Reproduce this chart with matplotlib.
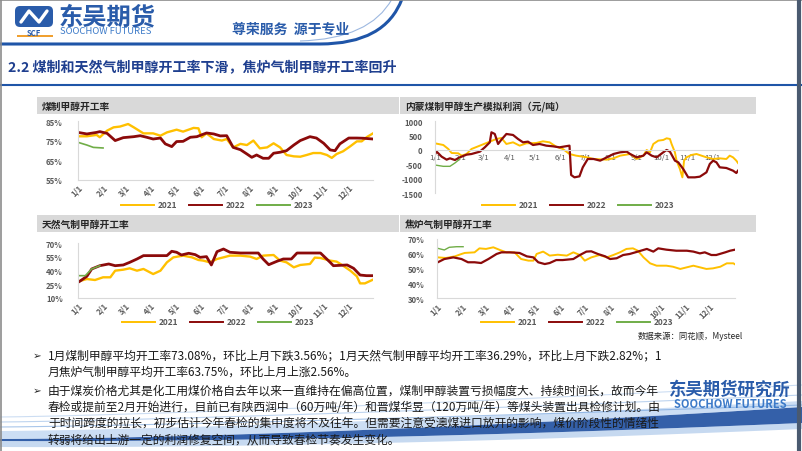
import numpy as np
import matplotlib
matplotlib.use('Agg')
from matplotlib import pyplot as plt
from matplotlib.patches import Rectangle, FancyBboxPatch, PathPatch
from matplotlib.path import Path
from matplotlib.lines import Line2D

plt.rcParams['font.family'] = ['Noto Sans CJK SC', 'DejaVu Sans']

# ---------------- data ----------------
month_days = [0, 31, 59, 90, 120, 151, 181, 212, 243, 273, 304, 334]
month_labels = ['1/1', '2/1', '3/1', '4/1', '5/1', '6/1', '7/1', '8/1', '9/1', '10/1', '11/1', '12/1']
years = ['2021', '2022', '2023']
colors = {'2021': '#FFC000', '2022': '#8B0A0A', '2023': '#70AD47'}

# 煤制甲醇开工率 (%)
coal_d21 = [0, 11, 23, 27, 36, 44, 52, 62, 69, 81, 93, 102, 110, 122, 130, 143, 149, 153, 159, 168,
            178, 184, 192, 201, 209, 217, 225, 234, 242, 250, 258, 267, 275, 283, 291, 300, 308, 314,
            320, 328, 337, 345, 351, 357, 365]
coal_21 = [77.3, 77.3, 78.0, 76.8, 80.2, 81.9, 82.3, 83.6, 81.9, 78.8, 78.8, 77.6, 79.3, 80.7, 79.7,
           81.6, 81.4, 76.8, 78.8, 75.9, 75.1, 75.9, 71.6, 73.4, 72.8, 75.1, 71.1, 71.6, 73.7, 71.6,
           67.7, 67.0, 66.8, 67.7, 68.7, 68.7, 67.7, 66.2, 68.2, 69.6, 72.2, 74.7, 74.7, 76.8, 78.8]
coal_d22 = [0, 11, 23, 27, 36, 46, 56, 69, 77, 85, 93, 102, 108, 116, 122, 130, 139, 147, 159, 168,
            176, 184, 192, 201, 209, 215, 221, 229, 236, 242, 250, 258, 267, 275, 287, 295, 304, 312,
            318, 324, 335, 345, 353, 365]
coal_22 = [79.3, 78.5, 79.3, 79.7, 78.8, 75.1, 76.6, 77.1, 77.6, 76.8, 75.9, 76.4, 73.4, 72.0, 74.6,
           74.7, 76.8, 77.1, 79.0, 78.5, 77.5, 77.6, 71.6, 70.4, 68.2, 66.5, 67.7, 66.0, 66.0, 68.6,
           69.1, 69.9, 72.8, 75.1, 77.1, 76.4, 73.7, 70.3, 69.9, 73.4, 76.4, 76.4, 76.3, 75.9]
coal_d23 = [0, 11, 19, 31]
coal_23 = [74.2, 72.8, 71.6, 71.3]

# 内蒙煤制甲醇生产模拟利润 (元/吨)
prof_d21 = [0, 10, 16, 20, 28, 32, 38, 44, 54, 64, 74, 80, 86, 94, 102, 110, 122, 130, 138, 146, 154,
            162, 170, 183, 191, 207, 215, 223, 235, 243, 251, 255, 259, 263, 269, 275, 279, 283, 285,
            289, 291, 295, 298, 300, 303, 309, 315, 321, 327, 335, 343, 351, 355, 359, 363, 365]
prof_21 = [232, 174, 35, -105, -116, -198, -140, 35, 151, 267, 384, 419, 209, 267, 151, 232, 244, 302,
           267, 116, 35, -140, -198, -256, -314, -337, -291, -198, -140, -314, -198, 0, -81, 209, 326,
           349, 407, 384, 209, -81, -372, -663, -954, -372, -256, -174, -140, -198, -256, -314, -291,
           -314, -198, -256, -372, -454]
prof_d22 = [0, 2, 8, 14, 18, 24, 30, 38, 44, 54, 60, 66, 68, 72, 76, 80, 86, 94, 100, 106, 112, 118,
            126, 134, 142, 150, 162, 164, 168, 174, 178, 184, 191, 199, 207, 215, 223, 231, 235, 243,
            251, 255, 261, 267, 275, 279, 283, 289, 293, 299, 305, 313, 319, 327, 331, 335, 339, 343,
            351, 359, 363, 365]
prof_22 = [-140, -58, -233, -337, -291, -349, -256, -163, -140, -58, 93, 267, 616, 558, 209, 360, 558,
           523, 384, 267, 291, 174, 209, 151, 128, 93, 151, -872, -954, -919, -605, -314, -314, -372,
           -256, -140, -81, -58, -140, -256, -198, -81, -198, -256, -81, 0, -58, -372, -430, -663,
           -954, -954, -931, -779, -489, -372, -430, -605, -628, -721, -803, -721]
prof_d23 = [0, 10, 18, 24, 30]
prof_23 = [-524, -570, -570, -454, -314]

# 天然气制甲醇开工率 (%)
gas_d21 = [2, 11, 21, 31, 40, 46, 56, 64, 73, 81, 93, 102, 110, 118, 130, 141, 149, 155, 163, 172,
           180, 188, 201, 213, 221, 229, 242, 250, 258, 267, 275, 287, 293, 300, 312, 320, 328, 337,
           345, 349, 355, 365]
gas_21 = [28.4, 30.6, 29.5, 32.5, 32.5, 39.8, 40.9, 42.4, 39.8, 41.7, 36.1, 39.8, 49.0, 54.5, 56.4,
          54.5, 51.6, 50.9, 49.0, 52.7, 54.5, 56.4, 56.4, 55.3, 52.7, 56.4, 57.1, 50.9, 49.0, 43.5,
          46.1, 47.2, 54.2, 53.8, 50.9, 49.8, 45.3, 39.8, 33.6, 25.8, 25.8, 29.9]
gas_d22 = [2, 11, 17, 27, 38, 46, 56, 64, 73, 81, 93, 110, 116, 122, 128, 137, 145, 151, 159, 165,
           172, 180, 188, 201, 223, 229, 236, 246, 254, 264, 271, 300, 312, 316, 333, 341, 349, 357, 365]
gas_22 = [28.0, 33.6, 41.7, 45.3, 47.2, 45.3, 46.1, 49.0, 52.7, 56.4, 56.4, 56.4, 61.2, 60.1, 57.1,
          59.0, 57.5, 54.5, 55.3, 46.1, 60.8, 63.7, 60.1, 59.3, 59.3, 52.7, 46.4, 50.1, 52.7, 52.7,
          59.3, 59.3, 49.0, 45.3, 46.1, 42.4, 35.0, 34.3, 34.3]
gas_d23 = [2, 9, 17, 27]
gas_23 = [34.3, 34.3, 41.7, 45.3]

# 焦炉气制甲醇开工率 (%)
coke_d21 = [1, 11, 22, 30, 34, 46, 52, 60, 69, 77, 85, 95, 103, 112, 118, 122, 130, 138, 148, 159,
            167, 175, 181, 189, 199, 208, 216, 224, 232, 240, 246, 253, 261, 269, 281, 289, 298, 306,
            314, 322, 330, 338, 347, 355, 363, 365]
coke_21 = [57.6, 57.2, 58.3, 59.9, 60.6, 61.0, 63.7, 63.3, 64.4, 62.6, 61.0, 61.0, 56.5, 55.4, 55.4,
           59.9, 61.5, 58.8, 59.4, 58.8, 61.0, 59.2, 55.4, 57.6, 59.2, 57.6, 59.2, 61.0, 63.3, 63.7,
           62.1, 57.6, 53.6, 52.0, 52.0, 51.3, 49.8, 50.9, 52.0, 50.9, 49.8, 50.2, 51.3, 53.6, 53.6, 52.9]
coke_d22 = [1, 9, 20, 30, 38, 46, 54, 63, 73, 79, 89, 101, 110, 118, 124, 132, 138, 146, 154, 167,
            175, 183, 189, 197, 206, 212, 220, 228, 236, 246, 257, 265, 271, 281, 293, 306, 314, 322,
            328, 336, 342, 353, 359, 365]
coke_22 = [54.3, 56.5, 57.6, 56.5, 54.3, 54.3, 53.8, 56.5, 59.9, 61.0, 61.0, 60.6, 58.3, 57.6, 54.3,
           53.1, 53.8, 55.8, 55.8, 56.5, 59.2, 61.5, 61.7, 59.9, 58.3, 56.5, 57.0, 59.2, 59.9, 61.5,
           63.3, 61.5, 63.7, 62.8, 62.1, 62.1, 61.5, 60.3, 61.0, 59.2, 59.2, 61.0, 62.1, 62.8]
coke_d23 = [1, 9, 15, 24, 32]
coke_23 = [63.7, 62.6, 64.4, 64.8, 64.8]

bullet1 = ['1月煤制甲醇平均开工率73.08%，环比上月下跌3.56%；1月天然气制甲醇平均开工率36.29%，环比上月下跌2.82%；1',
           '月焦炉气制甲醇平均开工率63.75%，环比上月上涨2.56%。']
bullet2 = ['由于煤炭价格尤其是化工用煤价格自去年以来一直维持在偏高位置，煤制甲醇装置亏损幅度大、持续时间长，故而今年',
           '春检或提前至2月开始进行，目前已有陕西润中（60万吨/年）和晋煤华昱（120万吨/年）等煤头装置出具检修计划。由',
           '于时间跨度的拉长，初步估计今年春检的集中度将不及往年。但需要注意受澳煤进口放开的影响，煤价阶段性的情绪性',
           '转弱将给出上游一定的利润修复空间，从而导致春检节奏发生变化。']

# ---------------- figure ----------------
W, H = 802, 452
fig = plt.figure(figsize=(W / 100, H / 100), dpi=100)


def box(l, t, r, b):
    return [l / W, 1 - b / H, (r - l) / W, (b - t) / H]


bg = fig.add_axes([0, 0, 1, 1])
bg.set_xlim(0, W)
bg.set_ylim(H, 0)
bg.axis('off')

# header
bg.add_patch(FancyBboxPatch((15, 7), 38, 21, boxstyle='round,pad=0,rounding_size=5',
                            fc='#2A5CAA', ec='none'))
bg.plot([21, 29, 39, 47], [23, 12, 23, 12], color='white', lw=2.4, solid_capstyle='round')
bg.text(34, 33, 'SCF', fontsize=5.5, color='#2A5CAA', ha='center', va='center', fontweight='bold')
bg.add_patch(Rectangle((17, 36), 36, 1.5, fc='#F0A030', ec='none'))
bg.text(59, 17, '东吴期货', fontsize=17.5, color='#2A5CAA', fontweight='bold', va='center')
bg.text(60, 32, 'SOOCHOW FUTURES', fontsize=6.8, color='#3C7AC8', va='center')
bg.text(232, 30, '尊荣服务  源于专业', fontsize=10, color='#2A5CAA', fontweight='bold',
        va='center', style='italic')
p = Path([(0, 45), (320, 45), (385, 45), (402, 0)], [Path.MOVETO, Path.LINETO, Path.CURVE3, Path.CURVE3])
bg.add_patch(PathPatch(p, fill=False, ec='#1F55A8', lw=2.2))
p2 = Path([(300, 42), (370, 40), (392, 0)], [Path.MOVETO, Path.CURVE3, Path.CURVE3])
bg.add_patch(PathPatch(p2, fill=False, ec='#9DB8E0', lw=0.8))

bg.text(8, 68, '2.2 煤制和天然气制甲醇开工率下滑，焦炉气制甲醇开工率回升', fontsize=10.1,
        color='#1F3F8F', fontweight='bold', va='center')
bg.plot([0, W], [86, 86], color='#1F55A8', lw=1.5)

# chart title bars
bars = [(37, 98, 400, 115, '煤制甲醇开工率'),
        (400, 98, 757, 115, '内蒙煤制甲醇生产模拟利润（元/吨）'),
        (37, 216, 400, 233, '天然气制甲醇开工率'),
        (400, 216, 757, 233, '焦炉气制甲醇开工率')]
for l, t, r, b, name in bars:
    bg.add_patch(Rectangle((l, t), r - l - 1, b - t, fc='#D9D9D9', ec='none'))
    bg.text(l + 5, (t + b) / 2, name, fontsize=7, color='#262626', fontweight='bold', va='center')

bg.text(638, 336, '数据来源：同花顺，Mysteel', fontsize=6, color='#262626', va='center')

# bottom swoosh
xs = np.linspace(0, W, 300)
f = xs / W
top1 = 440 - 32 * f ** 1.6
bot1 = top1 + 2 + 14 * f ** 1.2
bg.fill_between(xs, top1, bot1, color='#1E4FA0', alpha=0.9, lw=0)
top2 = 432 - 30 * f ** 1.4
bg.fill_between(xs, top2, top1, color='#8FB6E8', alpha=0.45, lw=0)
for k, a in [(0, 0.6), (5, 0.45), (10, 0.35)]:
    bg.plot(xs, 428 - k - (22 + k) * f ** 1.3, color='#6FA0DC', lw=0.8, alpha=a)
bg.fill_between(xs, bot1, bot1 + 6, color='#5E93D6', alpha=0.35, lw=0)

# bullets
y = 356
for i, line in enumerate(bullet1):
    if i == 0:
        bg.text(33, y, '➢', fontsize=7.5, color='#262626', va='center')
    bg.text(48, y, line, fontsize=8.5, color='#1A1A1A', va='center')
    y += 16.5
y = 391
for i, line in enumerate(bullet2):
    if i == 0:
        bg.text(33, y, '➢', fontsize=7.5, color='#262626', va='center')
    bg.text(48, y, line, fontsize=8.5, color='#1A1A1A', va='center')
    y += 16.3

bg.text(730, 390, '东吴期货研究所', fontsize=12.5, color='#2A5CAA', fontweight='bold',
        ha='center', va='center')
bg.text(730, 405, 'SOOCHOW FUTURES', fontsize=8, color='#3C7AC8', fontweight='bold',
        ha='center', va='center')

# frame
bg.plot([0.5, 0.5], [0, H], color='#8C8C8C', lw=1.2)
bg.plot([0, W], [0.5, 0.5], color='#8C8C8C', lw=1.2)
bg.plot([799, 799], [0, H], color='#4A5A70', lw=3)


# ---------------- charts ----------------
def line_chart(rect, series, ylim, yticks, fmt, lw, legend_xy, ypad, zero_axis=False):
    ax = fig.add_axes(box(*rect))
    ax.patch.set_alpha(0)
    for yr, (d, v) in zip(years, series):
        ax.plot(d, v, color=colors[yr], lw=lw[yr], label=yr, solid_joinstyle='round')
    ax.set_xlim(0, 365)
    ax.set_ylim(*ylim)
    ax.set_yticks(yticks)
    ax.set_yticklabels([fmt(t) for t in yticks])
    ax.set_xticks(month_days)
    ax.set_xticklabels(month_labels, rotation=45, ha='right', rotation_mode='anchor')
    ax.tick_params(length=0, labelsize=5.6, colors='#595959')
    ax.tick_params(axis='y', pad=ypad)
    ax.tick_params(axis='x', pad=2)
    for lab in ax.get_xticklabels() + ax.get_yticklabels():
        lab.set_fontweight('bold')
    for s in ['top', 'right']:
        ax.spines[s].set_visible(False)
    for s in ['left', 'bottom']:
        ax.spines[s].set_color('#D9D9D9')
        ax.spines[s].set_linewidth(0.8)
    if zero_axis:
        ax.spines['bottom'].set_position(('data', 0))
    handles = [Line2D([0], [0], color=colors[yr], lw=1.4) for yr in years]
    ax.legend(handles, years, loc='center', bbox_to_anchor=(legend_xy[0] / W, 1 - legend_xy[1] / H),
              bbox_transform=fig.transFigure, ncol=3, frameon=False,
              handlelength=4.0, columnspacing=1.4, handletextpad=0.4,
              prop={'weight': 'bold', 'size': 6})
    for t in ax.get_legend().get_texts():
        t.set_color('#595959')
    return ax


pct = lambda t: '%d%%' % t
line_chart((78, 122.3, 373, 180.7),
           [(coal_d21, coal_21), (coal_d22, coal_22), (coal_d23, coal_23)],
           (55, 85), [55, 65, 75, 85], pct, {'2021': 1.7, '2022': 2.0, '2023': 1.2}, (217, 206), 11)
line_chart((435, 122.3, 738, 194),
           [(prof_d21, prof_21), (prof_d22, prof_22), (prof_d23, prof_23)],
           (-1500, 1000), [-1500, -1000, -500, 0, 500, 1000], lambda t: '%d' % t,
           {'2021': 1.4, '2022': 1.6, '2023': 1.0}, (578, 206), 9, zero_axis=True)
line_chart((78, 244.3, 373, 298.7),
           [(gas_d21, gas_21), (gas_d22, gas_22), (gas_d23, gas_23)],
           (10, 70), [10, 25, 40, 55, 70], pct, {'2021': 1.7, '2022': 2.0, '2023': 1.2}, (218, 323), 11)
line_chart((437, 240, 735, 299.3),
           [(coke_d21, coke_21), (coke_d22, coke_22), (coke_d23, coke_23)],
           (30, 70), [30, 40, 50, 60, 70], pct, {'2021': 1.4, '2022': 1.6, '2023': 1.0}, (577, 323), 9)

fig.savefig('out.png', dpi=100)
